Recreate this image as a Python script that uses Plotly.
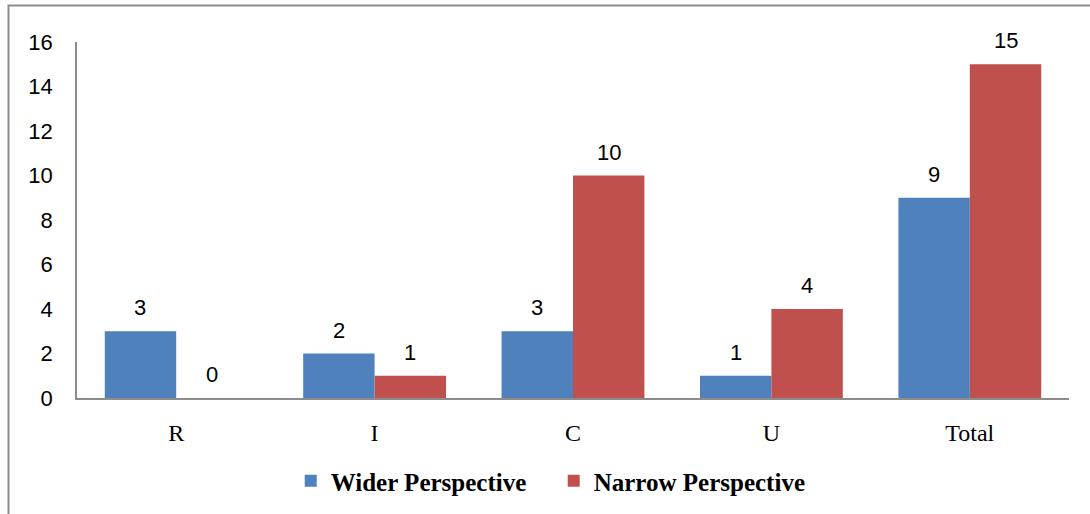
import plotly.graph_objects as go

categories = ["R", "I", "C", "U", "Total"]
wider = [3, 2, 3, 1, 9]
narrow = [0, 1, 10, 4, 15]
y_ticks = [0, 2, 4, 6, 8, 10, 12, 14, 16]

BLUE = "#4F81BD"
RED = "#C0504D"
AXIS = "#8C8C8C"
SANS = "Liberation Sans, Arial"
SERIF = "Liberation Serif, Times New Roman"

L, R, T, B = 77, 21, 42, 116
W, H = 1090, 514
pw, ph = W - L - R, H - T - B
BARGAP = 0.28
bar_px = pw / len(categories) * (1 - BARGAP) / 2

fig = go.Figure()
for name, vals, color in [("Wider Perspective", wider, BLUE),
                          ("Narrow Perspective", narrow, RED)]:
    fig.add_trace(go.Bar(
        x=categories, y=vals, name=name,
        marker=dict(color=color, line=dict(width=0)),
    ))

# value labels sit a little above each bar
annotations = []
for vals, shift in [(wider, -bar_px / 2), (narrow, bar_px / 2)]:
    for cat, v in zip(categories, vals):
        annotations.append(dict(
            x=cat, y=v, xref="x", yref="y", text=str(v), showarrow=False,
            xshift=shift, yshift=9, yanchor="bottom",
            font=dict(family=SANS, size=22, color="#000"),
        ))

fig.update_layout(
    width=W, height=H,
    margin=dict(l=L, r=R, t=T, b=B, autoexpand=False),
    paper_bgcolor="white", plot_bgcolor="white",
    barmode="group", bargap=BARGAP, bargroupgap=0,
    showlegend=True,
    legend=dict(
        orientation="h", xref="container", x=0.508, xanchor="center",
        yref="container", y=(H - 481) / H, yanchor="middle",
        font=dict(family=SERIF, size=25, color="#000", weight="bold"),
        itemwidth=30, tracegroupgap=0,
        entrywidth=218,
    ),
    xaxis=dict(
        showgrid=False, showline=True, linecolor=AXIS, linewidth=1.5,
        ticks="outside", ticklen=12, tickcolor="rgba(0,0,0,0)",
        tickfont=dict(family=SERIF, size=24, color="#000"),
    ),
    yaxis=dict(
        range=[0, 16], tickvals=y_ticks, showgrid=False, zeroline=False,
        showline=True, linecolor=AXIS, linewidth=1.5,
        ticks="outside", ticklen=18, tickcolor="rgba(0,0,0,0)",
        tickfont=dict(family=SANS, size=22, color="#000"),
    ),
    annotations=annotations,
    shapes=[dict(
        type="rect", xref="paper", yref="paper",
        x0=(8.5 - L) / pw, x1=(W + 10 - L) / pw,
        y0=(H - B - (H + 10)) / ph, y1=(H - B - 5.5) / ph,
        line=dict(color=AXIS, width=2), fillcolor="rgba(0,0,0,0)", layer="below",
    )],
)

fig.write_html("out.html")
